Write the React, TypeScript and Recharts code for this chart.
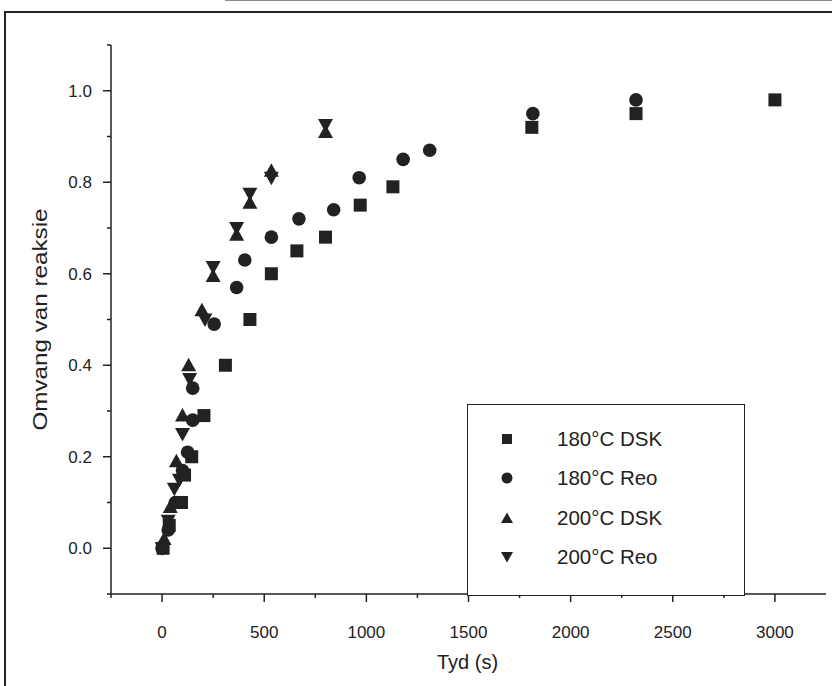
import React from 'react';
import { ScatterChart, Scatter, XAxis, YAxis, Legend } from 'recharts';

// 180°C DSK (squares)
const dsk180Time = [5, 35, 95, 110, 145, 205, 310, 430, 535, 660, 800, 970, 1130, 1810, 2320, 3000];
const dsk180Ext = [0.0, 0.05, 0.1, 0.16, 0.2, 0.29, 0.4, 0.5, 0.6, 0.65, 0.68, 0.75, 0.79, 0.92, 0.95, 0.98];

// 180°C Reo (circles)
const reo180Time = [0, 30, 65, 100, 125, 150, 150, 255, 365, 405, 535, 670, 840, 965, 1180, 1310, 1815, 2320];
const reo180Ext = [0.0, 0.04, 0.1, 0.17, 0.21, 0.28, 0.35, 0.49, 0.57, 0.63, 0.68, 0.72, 0.74, 0.81, 0.85, 0.87, 0.95, 0.98];

// 200°C DSK (up triangles)
const dsk200Time = [10, 40, 70, 100, 130, 195, 250, 365, 430, 535, 800];
const dsk200Ext = [0.02, 0.09, 0.19, 0.29, 0.4, 0.52, 0.595, 0.685, 0.755, 0.825, 0.91];

// 200°C Reo (down triangles)
const reo200Time = [0, 30, 60, 85, 100, 135, 210, 250, 365, 430, 535, 800];
const reo200Ext = [0.0, 0.06, 0.13, 0.15, 0.25, 0.37, 0.5, 0.615, 0.7, 0.775, 0.81, 0.925];

const seriesNames = ['180°C DSK', '180°C Reo', '200°C DSK', '200°C Reo'];

const xTicks = [-250, 0, 250, 500, 750, 1000, 1250, 1500, 1750, 2000, 2250, 2500, 2750, 3000];
const xLabelTicks = [0, 500, 1000, 1500, 2000, 2500, 3000];
const yTicks = [-0.1, 0, 0.1, 0.2, 0.3, 0.4, 0.5, 0.6, 0.7, 0.8, 0.9, 1.0, 1.1];
const yLabelTicks = [0, 0.2, 0.4, 0.6, 0.8, 1.0];

const xTitle = 'Tyd (s)';
const yTitle = 'Omvang van reaksie';

const FONT = "'Liberation Sans', Arial, sans-serif";
const INK = '#222';

const toPoints = (xs: number[], ys: number[]) => xs.map((t, i) => ({ t, v: ys[i] }));

const Square = (p: any) => <rect x={p.cx - 6.5} y={p.cy - 6.5} width={13} height={13} fill={INK} />;
const Circle = (p: any) => <circle cx={p.cx} cy={p.cy} r={6.8} fill={INK} />;
const TriUp = (p: any) => (
  <polygon points={`${p.cx},${p.cy - 7.5} ${p.cx + 7.5},${p.cy + 6} ${p.cx - 7.5},${p.cy + 6}`} fill={INK} />
);
const TriDown = (p: any) => (
  <polygon points={`${p.cx},${p.cy + 7.5} ${p.cx + 7.5},${p.cy - 6} ${p.cx - 7.5},${p.cy - 6}`} fill={INK} />
);

const XTick = (props: any) => {
  const { x, y, payload } = props;
  const v = payload.value;
  const major = xLabelTicks.includes(v);
  return (
    <g>
      <line x1={x} x2={x} y1={y} y2={y + (major ? 8 : 4)} stroke={INK} strokeWidth={1.5} />
      {major && (
        <text x={x} y={y + 44} textAnchor="middle" fontFamily={FONT} fontSize={17} fill={INK}>
          {v}
        </text>
      )}
    </g>
  );
};

const YTick = (props: any) => {
  const { x, y, payload } = props;
  const v = payload.value;
  const major = yLabelTicks.some((t) => Math.abs(t - v) < 1e-9);
  return (
    <g>
      <line x1={x} x2={x - (major ? 8 : 4)} y1={y} y2={y} stroke={INK} strokeWidth={1.5} />
      {major && (
        <text x={x - 19} y={y + 6} textAnchor="end" fontFamily={FONT} fontSize={17} fill={INK}>
          {v.toFixed(1)}
        </text>
      )}
    </g>
  );
};

const markerIcons = [
  <rect x={4} y={4} width={10} height={10} fill={INK} />,
  <circle cx={9} cy={9} r={5.5} fill={INK} />,
  <polygon points="9,3.5 15,14 3,14" fill={INK} />,
  <polygon points="9,14.5 15,4 3,4" fill={INK} />,
];

const LegendBox = () => (
  <div
    style={{
      width: 278,
      height: 192,
      boxSizing: 'border-box',
      border: `1.5px solid ${INK}`,
      background: '#fff',
      position: 'relative',
      fontFamily: FONT,
    }}
  >
    {seriesNames.map((name, i) => (
      <div key={name} style={{ position: 'absolute', left: 0, top: 21 + i * 39.3, height: 26, width: 276 }}>
        <svg width={18} height={18} style={{ position: 'absolute', left: 30, top: 4 }}>
          {markerIcons[i]}
        </svg>
        <span style={{ position: 'absolute', left: 89, top: 0, fontSize: 20.5, lineHeight: '26px', color: INK, whiteSpace: 'nowrap' }}>
          {name}
        </span>
      </div>
    ))}
  </div>
);

export default function App() {
  return (
    <div style={{ position: 'fixed', left: 0, top: 0, width: 832, height: 686, background: '#fff', overflow: 'hidden' }}>
      <div style={{ position: 'absolute', left: 225, top: 0, width: 607, height: 1, background: '#888' }} />
      <div
        style={{
          position: 'absolute',
          left: 4,
          top: 11,
          width: 900,
          height: 800,
          borderLeft: `2px solid ${INK}`,
          borderTop: `2px solid ${INK}`,
        }}
      />
      <div style={{ position: 'absolute', left: 0, top: 0 }}>
        <ScatterChart width={832} height={686} margin={{ top: 45, right: 6, bottom: 62, left: 0 }}>
          <XAxis
            xAxisId="top"
            orientation="top"
            type="number"
            dataKey="t"
            domain={[-250, 3250]}
            height={0}
            tick={false}
            tickLine={false}
            axisLine={{ stroke: INK, strokeWidth: 3.5 }}
          />
          <XAxis
            type="number"
            dataKey="t"
            domain={[-250, 3250]}
            ticks={xTicks}
            interval={0}
            height={30}
            tickSize={0}
            tickMargin={0}
            tickLine={false}
            tick={<XTick />}
            axisLine={{ stroke: INK, strokeWidth: 1.5 }}
            label={{
              content: (p: any) => (
                <text
                  x={p.viewBox.x + p.viewBox.width / 2 - 1}
                  y={p.viewBox.y + 75}
                  textAnchor="middle"
                  fontFamily={FONT}
                  fontSize={20}
                  fill={INK}
                >
                  {xTitle}
                </text>
              ),
            }}
          />
          <YAxis
            type="number"
            dataKey="v"
            domain={[-0.1, 1.1]}
            ticks={yTicks}
            interval={0}
            width={111}
            tickSize={0}
            tickMargin={0}
            tickLine={false}
            tick={<YTick />}
            axisLine={{ stroke: INK, strokeWidth: 1.5 }}
            label={{
              content: (p: any) => {
                const cx = 40;
                const cy = p.viewBox.y + p.viewBox.height / 2;
                return (
                  <text
                    x={cx}
                    y={cy}
                    transform={`rotate(-90 ${cx} ${cy})`}
                    textAnchor="middle"
                    dominantBaseline="central"
                    fontFamily={FONT}
                    fontSize={20}
                    textLength={222}
                    lengthAdjust="spacingAndGlyphs"
                    fill={INK}
                  >
                    {yTitle}
                  </text>
                );
              },
            }}
          />
          <Legend
            layout="vertical"
            align="center"
            verticalAlign="middle"
            content={() => <LegendBox />}
            wrapperStyle={{ left: 467, top: 404, width: 278, height: 192 }}
          />
          <Scatter name={seriesNames[0]} data={toPoints(dsk180Time, dsk180Ext)} shape={Square} isAnimationActive={false} />
          <Scatter name={seriesNames[1]} data={toPoints(reo180Time, reo180Ext)} shape={Circle} isAnimationActive={false} />
          <Scatter name={seriesNames[2]} data={toPoints(dsk200Time, dsk200Ext)} shape={TriUp} isAnimationActive={false} />
          <Scatter name={seriesNames[3]} data={toPoints(reo200Time, reo200Ext)} shape={TriDown} isAnimationActive={false} />
        </ScatterChart>
      </div>
    </div>
  );
}
